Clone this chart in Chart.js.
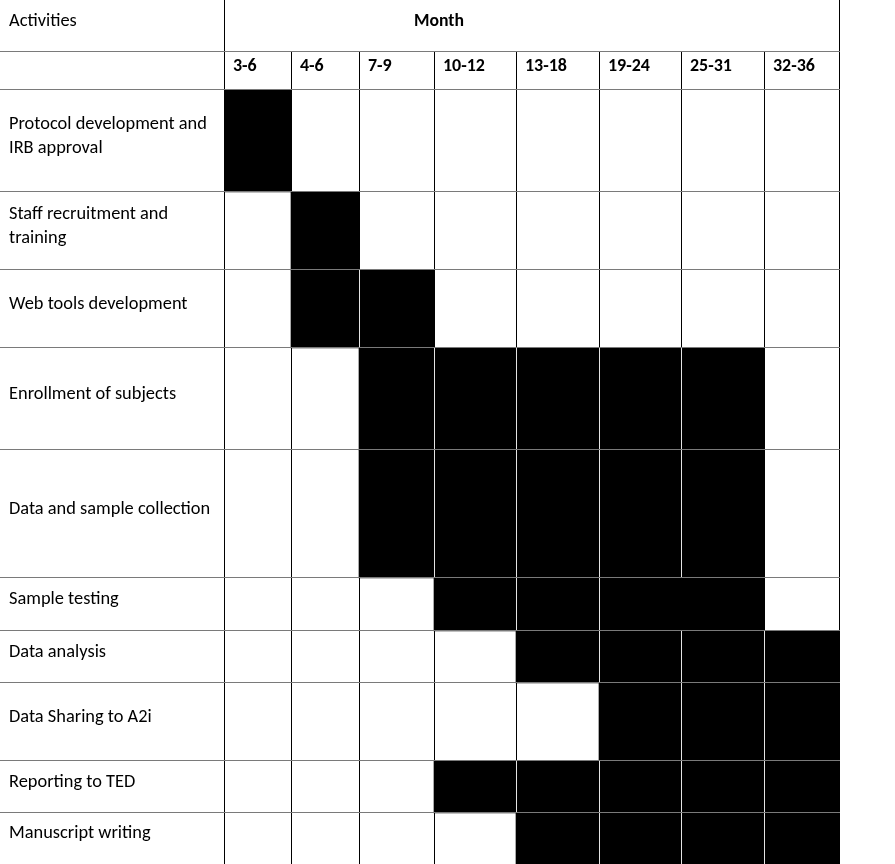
<!DOCTYPE html>
<html>
<head>
<meta charset="utf-8">
<script src="https://cdn.jsdelivr.net/npm/chart.js@4.4.1/dist/chart.umd.min.js"></script>
<style>
html,body{margin:0;padding:0;background:#fff;overflow:hidden}
canvas{display:block}
</style>
</head>
<body>
<canvas id="chart" width="895" height="864"></canvas>
<script>
// ---------------- DATA ----------------
const headerActivities = 'Activities';
const headerMonth = 'Month';
const monthLabels = ['3-6', '4-6', '7-9', '10-12', '13-18', '19-24', '25-31', '32-36'];
const activities = [
  'Protocol development and IRB approval',
  'Staff recruitment and training',
  'Web tools development',
  'Enrollment of subjects',
  'Data and sample collection',
  'Sample testing',
  'Data analysis',
  'Data Sharing to A2i',
  'Reporting to TED',
  'Manuscript writing'
];
// first and last month period in which each activity is scheduled
const startPeriod = ['3-6', '4-6', '4-6', '7-9', '7-9', '10-12', '13-18', '19-24', '10-12', '13-18'];
const endPeriod   = ['3-6', '4-6', '7-9', '25-31', '25-31', '25-31', '32-36', '32-36', '32-36', '32-36'];
// shaded cells that are merged (no divider between them)
const mergedPeriods = [{ activity: 'Sample testing', from: '19-24', to: '25-31' }];

// ---------------- LAYOUT (table geometry, not data) ----------------
const layout = {
  canvasWidth: 895,
  canvasHeight: 864,
  labelColumn: 224,
  columnWidths: [67, 68, 75, 82, 83, 82, 83, 75],
  headerRows: [52, 38],
  rowHeights: [102, 78, 78, 102, 128, 53, 52, 78, 52, 51],
  padX: 9,
  lineHeight: 24,
  monthTitleOffset: 190
};
const fontFamily = 'Carlito, Calibri, Lato, "Open Sans", sans-serif';

const cumulative = arr => arr.reduce((acc, v) => { acc.push(acc[acc.length - 1] + v); return acc; }, [0]);
const colEdges = cumulative(layout.columnWidths);
const rowEdges = cumulative(layout.rowHeights);
const gridW = colEdges[colEdges.length - 1];
const gridH = rowEdges[rowEdges.length - 1];
const headerH = layout.headerRows[0] + layout.headerRows[1];

// font sizes fitted to the reference's text widths
function fitSize(weight, sample, target) {
  const c = document.createElement('canvas').getContext('2d');
  c.font = weight + ' 100px ' + fontFamily;
  return 100 * target / c.measureText(sample).width;
}
const regularSize = fitSize('400', 'Protocol development and', 198);
const boldSize = fitSize('700', 'Month', 50);
const periodSize = fitSize('700', '13-18', 42);

const startIdx = startPeriod.map(p => monthLabels.indexOf(p));
const endIdx = endPeriod.map(p => monthLabels.indexOf(p));
const isActive = (i, j) => j >= startIdx[i] && j <= endIdx[i];
const isMerged = (i, k) => mergedPeriods.some(m =>
  m.activity === activities[i] &&
  monthLabels.indexOf(m.from) < k && monthLabels.indexOf(m.to) >= k);

// one Gantt bar per activity
const datasets = activities.map((name, i) => ({
  label: name,
  data: [{
    x: [colEdges[startIdx[i]], colEdges[endIdx[i] + 1]],
    y: (rowEdges[i] + rowEdges[i + 1]) / 2
  }],
  backgroundColor: '#000000',
  borderWidth: 0,
  grouped: false,
  barThickness: ctx => {
    const ys = ctx.chart.scales.y;
    return Math.abs(ys.getPixelForValue(rowEdges[i + 1]) - ys.getPixelForValue(rowEdges[i]));
  }
}));

function wrapText(ctx, text, maxWidth) {
  const words = text.split(' ');
  const lines = [];
  let line = '';
  words.forEach(w => {
    const test = line ? line + ' ' + w : w;
    if (line && ctx.measureText(test).width > maxWidth) { lines.push(line); line = w; }
    else line = test;
  });
  if (line) lines.push(line);
  return lines;
}

const tablePlugin = {
  id: 'ganttTable',
  beforeDraw(chart) {
    const { ctx } = chart;
    ctx.save();
    ctx.fillStyle = '#ffffff';
    ctx.fillRect(0, 0, chart.width, chart.height);
    ctx.restore();
  },
  afterDatasetsDraw(chart) {
    const { ctx } = chart;
    const xs = chart.scales.x, ys = chart.scales.y;
    const X = v => xs.getPixelForValue(v);
    const Y = v => ys.getPixelForValue(v);
    const tableLeft = X(-layout.labelColumn);
    const tableTop = Y(-headerH);
    const headerSplit = Y(-layout.headerRows[1]);
    const gridLeft = X(0), gridRight = X(gridW), gridTop = Y(0), gridBottom = Y(gridH);
    const line = (x1, y1, x2, y2) => { ctx.beginPath(); ctx.moveTo(x1, y1); ctx.lineTo(x2, y2); ctx.stroke(); };
    const px = v => Math.round(v) + 0.5;

    ctx.save();
    ctx.lineWidth = 1;

    // column dividers inside the grid
    activities.forEach((_, i) => {
      for (let k = 1; k < monthLabels.length; k++) {
        const a = isActive(i, k - 1), b = isActive(i, k);
        if (a && b && isMerged(i, k)) continue;
        ctx.strokeStyle = (a && b) ? '#e4e4e4' : '#000000';
        line(px(X(colEdges[k])), Y(rowEdges[i]), px(X(colEdges[k])), Y(rowEdges[i + 1]));
      }
    });
    // column dividers in the period header row
    ctx.strokeStyle = '#000000';
    for (let k = 1; k < monthLabels.length; k++) {
      line(px(X(colEdges[k])), headerSplit, px(X(colEdges[k])), gridTop);
    }
    // outer verticals
    line(px(gridLeft), tableTop, px(gridLeft), gridBottom);
    line(px(gridRight), tableTop, px(gridRight), gridBottom);

    // horizontal rules
    ctx.strokeStyle = '#7a7a7a';
    const hs = [headerSplit, gridTop];
    for (let i = 1; i < rowEdges.length - 1; i++) hs.push(Y(rowEdges[i]));
    hs.forEach(y => line(tableLeft, px(y) - 1, gridRight + 1, px(y) - 1));

    // texts
    ctx.fillStyle = '#000000';
    ctx.textBaseline = 'alphabetic';
    ctx.textAlign = 'left';
    ctx.font = '400 ' + regularSize + 'px ' + fontFamily;
    ctx.fillText(headerActivities, tableLeft + layout.padX, (tableTop + headerSplit) / 2 - 0.5);

    const maxW = layout.labelColumn - layout.padX - 6;
    activities.forEach((name, i) => {
      const lines = wrapText(ctx, name, maxW);
      const cy = (Y(rowEdges[i]) + Y(rowEdges[i + 1])) / 2;
      lines.forEach((ln, k) => {
        ctx.fillText(ln, tableLeft + layout.padX, cy + (k - (lines.length - 1) / 2) * layout.lineHeight - 0.5);
      });
    });

    ctx.font = '700 ' + boldSize + 'px ' + fontFamily;
    ctx.fillText(headerMonth, X(layout.monthTitleOffset), (tableTop + headerSplit) / 2 - 0.5);
    ctx.font = '700 ' + periodSize + 'px ' + fontFamily;
    monthLabels.forEach((m, j) => {
      ctx.fillText(m, X(colEdges[j]) + layout.padX, (headerSplit + gridTop) / 2 - 0.5);
    });
    ctx.restore();
  }
};

new Chart(document.getElementById('chart'), {
  type: 'bar',
  data: { datasets },
  options: {
    indexAxis: 'y',
    responsive: false,
    animation: false,
    devicePixelRatio: 1,
    events: [],
    layout: {
      padding: {
        left: layout.labelColumn,
        top: headerH,
        right: layout.canvasWidth - layout.labelColumn - gridW,
        bottom: layout.canvasHeight - headerH - gridH
      }
    },
    scales: {
      x: { type: 'linear', min: 0, max: gridW, display: false, offset: false },
      y: { type: 'linear', min: 0, max: gridH, reverse: true, display: false, offset: false }
    },
    plugins: {
      legend: { display: false },
      tooltip: { enabled: false },
      title: { display: false }
    }
  },
  plugins: [tablePlugin]
});
</script>
</body>
</html>
